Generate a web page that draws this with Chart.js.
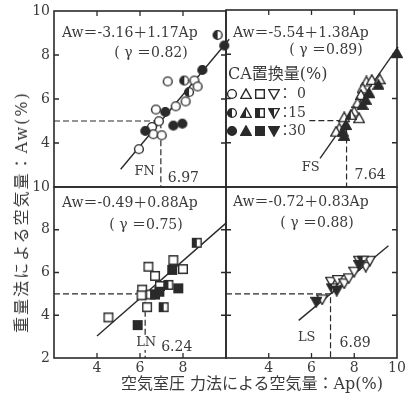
<!DOCTYPE html>
<html>
<head>
<meta charset="utf-8">
<script src="https://cdn.jsdelivr.net/npm/chart.js@4.4.1/dist/chart.umd.min.js"></script>
<style>
    html, body { margin: 0; padding: 0; background: #fff; }
    #wrap { position: relative; width: 411px; height: 394px; overflow: hidden; }
    #wrap canvas { position: absolute; left: 0; top: 0; }
    .axis-title {
        position: absolute; white-space: nowrap; color: #3a3a3a;
        font: 16px 'DejaVu Serif', 'Noto Sans CJK JP', serif; line-height: 16px;
    }
    #x-title { left: 252px; top: 384px; transform: translate(-50%, -50%); }
    #y-title { left: 22px; top: 212px; transform: translate(-50%, -50%) rotate(-90deg); letter-spacing: 2px; }
</style>
</head>
<body>
<div id="wrap">
    <canvas id="panel-fn" width="411" height="394"></canvas>
    <canvas id="panel-fs" width="411" height="394"></canvas>
    <canvas id="panel-ls" width="411" height="394"></canvas>
    <canvas id="panel-ln" width="411" height="394"></canvas>
    <div id="x-title" class="axis-title"></div>
    <div id="y-title" class="axis-title"></div>
</div>
<script>
// values
const panelNames = ['FN', 'FS', 'LN', 'LS']
const equations = ['Aw＝-3.16＋1.17Ap', 'Aw＝-5.54＋1.38Ap', 'Aw＝-0.49＋0.88Ap', 'Aw＝-0.72＋0.83Ap']
const gammaLabels = ['( γ ＝0.82)', '( γ ＝0.89)', '( γ ＝0.75)', '( γ ＝0.88)']
const intercepts = [-3.16, -5.54, -0.49, -0.72]
const slopes = [1.17, 1.38, 0.88, 0.83]
const apAtAw5 = [6.97, 7.64, 6.24, 6.89]
const awRef = 5
const lineStart = [5.1, 6.4, 4.0, 5.4]
const lineEnd = [10.15, 10.05, 10.0, 9.6]
const dashStart = [2, 5.9, 2, 2]
const innerTicks = [4, 6, 8]
const legendTitle = 'CA置換量(%)'
const replaceRates = ['0', '15', '30']
const xTitle = '空気室圧 力法による空気量：Ap(%)'
const yTitle = '重量法による空気量：Aw(%)'

// [Ap, Aw] pairs per CA replacement rate (0 / 15 / 30 %)
const fn0 = [[5.95, 3.72], [6.56, 4.73], [6.62, 4.40], [7.01, 4.35], [6.88, 4.99], [6.74, 5.52], [7.66, 5.67], [8.12, 5.89], [7.29, 6.80], [8.53, 6.84], [8.68, 6.57]]
const fn15 = [[8.28, 6.31], [8.06, 6.84], [9.61, 8.91]]
const fn30 = [[6.25, 4.55], [7.18, 5.41], [7.55, 4.79], [7.97, 4.88], [8.90, 7.32], [9.92, 8.43]]

const fs0 = [[8.57, 6.77], [8.82, 6.84], [9.19, 6.87], [8.39, 6.46], [8.31, 6.16], [8.15, 5.79], [8.00, 5.41], [8.23, 5.11], [7.53, 5.15], [7.30, 4.65], [7.15, 4.50]]
const fs15 = [[7.84, 5.26]]
const fs30 = [[10.0, 8.05], [9.13, 6.62], [8.70, 6.24], [8.54, 5.94], [8.39, 5.71], [7.61, 4.80], [7.46, 4.50], [7.53, 4.31]]

const ln0 = [[7.55, 6.58], [8.0, 6.16], [6.39, 6.27], [6.70, 5.84], [6.93, 5.37], [6.1, 5.2], [6.07, 4.93], [6.5, 4.97], [6.33, 4.38], [4.53, 3.90]]
const ln15 = [[8.64, 7.39], [7.32, 5.42], [7.1, 4.38]]
const ln30 = [[7.5, 6.12], [7.78, 5.26], [6.7, 4.97], [6.9, 5.1], [5.89, 3.54]]

const ls0 = [[6.50, 4.74], [6.91, 5.57], [7.22, 5.65], [7.53, 5.49], [7.74, 5.73], [8.00, 6.04], [8.54, 6.27], [8.73, 6.55], [8.23, 6.55]]
const ls15 = [[6.96, 5.26], [8.39, 6.55]]
const ls30 = [[6.22, 4.63], [7.18, 5.15], [8.23, 6.35]]

const ink = '#2a2a2a'
const textInk = '#3a3a3a'
const serif = "'DejaVu Serif', 'Noto Sans CJK JP', serif"

document.getElementById('x-title').textContent = xTitle
document.getElementById('y-title').textContent = yTitle

// marker icons: open / half / full for each shape
function makeMarker(shape, fill) {
    let c = document.createElement('canvas')
    c.width = 12
    c.height = 12
    let ctx = c.getContext('2d')
    ctx.beginPath()
    if (shape === 'circle') ctx.arc(6, 6, 4.4, 0, Math.PI * 2)
    if (shape === 'square') ctx.rect(1.7, 1.7, 8.6, 8.6)
    if (shape === 'up') {
        ctx.moveTo(6, 0.9); ctx.lineTo(11.3, 10.4); ctx.lineTo(0.7, 10.4); ctx.closePath()
    }
    if (shape === 'down') {
        ctx.moveTo(0.7, 1.6); ctx.lineTo(11.3, 1.6); ctx.lineTo(6, 11.1); ctx.closePath()
    }
    ctx.fillStyle = '#fff'
    ctx.fill()
    if (fill === 'full') {
        ctx.fillStyle = ink
        ctx.fill()
    }
    if (fill === 'half') {
        ctx.save()
        ctx.clip()
        ctx.fillStyle = ink
        ctx.fillRect(0, 0, 6, 12)
        ctx.restore()
    }
    ctx.lineWidth = 1.4
    ctx.strokeStyle = ink
    ctx.stroke()
    return c
}

const markerShapes = ['circle', 'up', 'square', 'down']
const markerFills = ['open', 'half', 'full']
let markers = {}
markerShapes.forEach(s => {
    markers[s] = {}
    markerFills.forEach(f => { markers[s][f] = makeMarker(s, f) })
})

// panel frames [left, top, right, bottom] and which axes carry labels
const panelRects = [[54, 10, 226, 187], [226, 10, 397, 187], [54, 187, 226, 358], [226, 187, 397, 358]]
const yLabelled = [true, false, true, false]
const xLabelled = [false, false, true, true]
const yAxisWidth = 40
const xAxisHeight = 20

// text offsets: eq/gam relative to chart area top-left, name/val relative to dashed x and bottom
const notePos = [
    { eq: [8, 22], gam: [97, 42], name: [-6, -15, 'right'], val: [7, -9] },
    { eq: [7, 23], gam: [100, 40], name: [-27, -19, 'right'], val: [8, -12] },
    { eq: [8, 16], gam: [92, 38], name: [1, -15, 'center'], val: [16, -11] },
    { eq: [7, 15], gam: [91, 36], name: [-15, -20, 'right'], val: [9, -15] }
]

function toPoints(arr) {
    return arr.map(p => ({ x: p[0], y: p[1] }))
}

const panelDecor = {
    id: 'panelDecor',
    afterDraw(chart, args, opts) {
        let i = opts.index
        let ctx = chart.ctx
        let a = chart.chartArea
        let xs = chart.scales.x
        let ys = chart.scales.y
        ctx.save()

        // frame and inward ticks
        ctx.strokeStyle = ink
        ctx.lineWidth = 1.6
        ctx.strokeRect(a.left, a.top, a.right - a.left, a.bottom - a.top)
        ctx.lineWidth = 1.3
        ctx.beginPath()
        innerTicks.forEach(v => {
            let py = ys.getPixelForValue(v)
            ctx.moveTo(a.left, py); ctx.lineTo(a.left + 5, py)
            ctx.moveTo(a.right, py); ctx.lineTo(a.right - 5, py)
            let px = xs.getPixelForValue(v)
            if (i < 2) { ctx.moveTo(px, a.top); ctx.lineTo(px, a.top + 5) }
            else { ctx.moveTo(px, a.bottom); ctx.lineTo(px, a.bottom - 5) }
        })
        ctx.stroke()

        // equation texts
        let np = notePos[i]
        ctx.fillStyle = textInk
        ctx.textBaseline = 'middle'
        ctx.font = '14px ' + serif
        ctx.textAlign = 'left'
        ctx.fillText(equations[i], a.left + np.eq[0], a.top + np.eq[1])
        ctx.textAlign = 'center'
        ctx.fillText(gammaLabels[i], a.left + np.gam[0], a.top + np.gam[1])

        // panel name and Ap at Aw = 5
        let dx = xs.getPixelForValue(apAtAw5[i])
        ctx.font = '13px ' + serif
        ctx.textAlign = np.name[2]
        let nw = ctx.measureText(panelNames[i]).width
        let nx = dx + np.name[0]
        let boxL = np.name[2] === 'right' ? nx - nw : nx - nw / 2
        ctx.fillStyle = '#fff'
        ctx.fillRect(boxL - 1, a.bottom + np.name[1] - 7, nw + 2, 14)
        ctx.fillStyle = textInk
        ctx.fillText(panelNames[i], nx, a.bottom + np.name[1])
        ctx.font = '14px ' + serif
        ctx.textAlign = 'left'
        ctx.fillText(apAtAw5[i].toFixed(2), dx + np.val[0], a.bottom + np.val[1])

        // legend inside FS panel
        if (i === 1) {
            ctx.font = '16px ' + serif
            ctx.textAlign = 'left'
            ctx.fillText(legendTitle, 228, 75)
            replaceRates.forEach((r, k) => {
                let yy = [94, 113, 131][k]
                markerShapes.forEach((s, j) => {
                    ctx.drawImage(markers[s][markerFills[k]], 232 + j * 14 - 6, yy - 6)
                })
                ctx.font = '14px ' + serif
                ctx.textAlign = 'left'
                ctx.fillText('：', 278, yy)
                ctx.textAlign = 'right'
                ctx.fillText(r, 306, yy)
            })
        }
        ctx.restore()
    }
}

function buildPanel(canvasId, i, set0, set15, set30) {
    let f = panelRects[i]
    let shape = markerShapes[i]
    let x0 = lineStart[i]
    let x1 = lineEnd[i]

    let regression = [
        { x: x0, y: intercepts[i] + slopes[i] * x0 },
        { x: x1, y: intercepts[i] + slopes[i] * x1 }
    ]
    let guide = [
        { x: dashStart[i], y: awRef },
        { x: apAtAw5[i], y: awRef },
        { x: apAtAw5[i], y: 2 }
    ]

    let pointSet = (arr, fill) => ({
        type: 'scatter',
        data: toPoints(arr),
        pointStyle: markers[shape][fill],
        pointRadius: 6,
        clip: false,
        order: 0
    })

    new Chart(document.getElementById(canvasId), {
        type: 'scatter',
        data: {
            datasets: [
                pointSet(set30, 'full'),
                pointSet(set15, 'half'),
                pointSet(set0, 'open'),
                {
                    type: 'line', data: regression, borderColor: ink, borderWidth: 1.4,
                    pointRadius: 0, clip: false, order: 2
                },
                {
                    type: 'line', data: guide, borderColor: ink, borderWidth: 1.2,
                    borderDash: [6, 3], pointRadius: 0, order: 1
                }
            ]
        },
        options: {
            responsive: false,
            animation: false,
            events: [],
            layout: {
                autoPadding: false,
                padding: {
                    left: f[0] - (yLabelled[i] ? yAxisWidth : 0),
                    top: f[1],
                    right: 411 - f[2],
                    bottom: 394 - f[3] - (xLabelled[i] ? xAxisHeight : 0)
                }
            },
            plugins: {
                legend: { display: false },
                tooltip: { enabled: false },
                panelDecor: { index: i }
            },
            scales: {
                x: {
                    type: 'linear', min: 2, max: 10,
                    display: xLabelled[i],
                    grid: { display: false, drawTicks: false },
                    border: { display: false },
                    ticks: {
                        stepSize: 2, padding: 3, color: textInk, z: 1,
                        font: { family: serif, size: 14, lineHeight: 1 },
                        autoSkip: false, maxRotation: 0,
                        callback: v => (v === 2 || (v === 10 && i === 2)) ? '' : String(v)
                    },
                    afterFit: s => { s.height = xLabelled[i] ? xAxisHeight : 0 }
                },
                y: {
                    type: 'linear', min: 2, max: 10,
                    display: yLabelled[i],
                    grid: { display: false, drawTicks: false },
                    border: { display: false },
                    ticks: {
                        stepSize: 2, padding: 4, color: textInk,
                        font: { family: serif, size: 14, lineHeight: 1 },
                        callback: v => (v === 2 && i === 0) ? '' : String(v)
                    },
                    afterFit: s => { s.width = yLabelled[i] ? yAxisWidth : 0 }
                }
            }
        },
        plugins: [panelDecor]
    })
}

buildPanel('panel-fn', 0, fn0, fn15, fn30)
buildPanel('panel-fs', 1, fs0, fs15, fs30)
buildPanel('panel-ls', 3, ls0, ls15, ls30)
buildPanel('panel-ln', 2, ln0, ln15, ln30)
</script>
</body>
</html>
